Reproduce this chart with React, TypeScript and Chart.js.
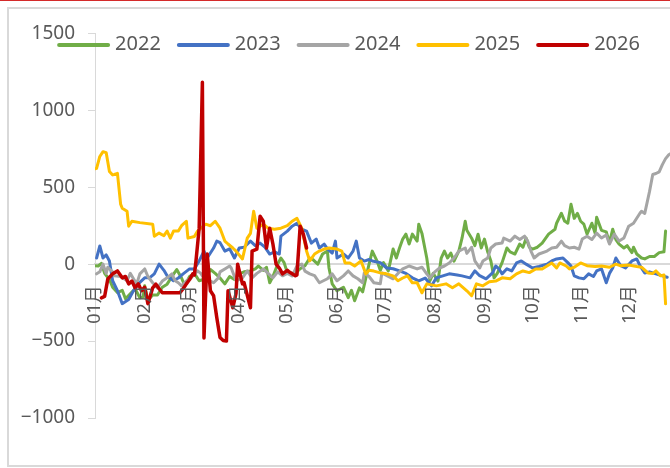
import React, { useEffect, useRef } from 'react';
import { Chart, registerables } from 'chart.js';

Chart.register(...registerables);

const FONT = '"Noto Sans", "Noto Sans CJK SC", sans-serif';
const TEXT_COLOR = '#595959';
const AXIS_COLOR = '#d9d9d9';

const SERIES_NAMES = ['2022', '2023', '2024', '2025', '2026'];
const SERIES_COLORS = ['#70AD47', '#4472C4', '#A5A5A5', '#FFC000', '#C00000'];

// x axis: day of year (0 = 1 Jan)
const MONTH_START_DAYS = [0, 31, 59, 90, 120, 151, 181, 212, 243, 273, 304, 334];
const MONTH_LABELS = ['01月', '02月', '03月', '04月', '05月', '06月', '07月', '08月', '09月', '10月', '11月', '12月'];
const Y_TICKS = [-1000, -500, 0, 500, 1000, 1500];

const days2022 = [0,2,4,6,9,11,14,17,19,22,25,28,30,31,33,36,39,42,45,48,51,54,56,59,62,65,69,72,75,78,81,84,87,90,93,97,100,102,105,107,109,111,114,116,118,120,125,128,131,134,136,139,142,145,146,148,151,155,158,160,162,165,167,169,171,173,176,178,180,183,186,188,190,192,194,196,198,201,202,204,207,209,211,214,216,218,220,222,224,227,229,231,232,235,237,239,241,243,245,247,249,251,254,257,259,262,265,267,269,271,273,276,279,283,287,288,291,293,295,297,299,301,303,305,307,310,312,313,316,319,321,323,325,327,330,332,335,336,338,341,343,346,349,352,355,356];
const vals2022 = [-10,-12,5,-60,-100,-150,-185,-170,-225,-193,-160,-218,-215,-140,-235,-200,-200,-150,-130,-80,-35,-90,-140,-80,-60,-108,-95,-35,-60,-90,-128,-80,-100,-63,-50,-44,-30,-12,-40,-20,-121,-80,0,40,10,-57,-60,-30,-10,40,30,0,66,85,-25,-128,-173,-150,-218,-170,-238,-154,-180,-89,0,85,20,-40,10,-44,98,40,105,163,195,131,195,150,260,200,40,-108,-60,-110,40,85,40,72,20,85,169,279,220,169,120,195,105,163,80,21,-89,-60,10,105,80,66,131,110,169,110,98,110,137,195,227,266,331,280,266,389,298,330,279,260,195,266,202,305,220,210,140,227,160,130,105,120,75,110,66,40,34,50,50,75,80,215];

const days2023 = [1,3,5,7,9,11,14,17,21,24,27,31,34,37,40,43,45,49,52,55,59,62,65,68,70,74,76,78,81,84,87,90,93,97,100,103,106,109,112,115,116,120,123,126,129,132,135,138,140,143,145,148,150,151,155,158,161,163,165,168,171,173,178,182,186,190,194,198,202,206,210,213,217,221,226,229,234,237,240,244,248,250,252,254,257,260,263,266,269,273,277,282,285,288,292,295,297,299,302,305,308,311,313,316,319,321,323,325,328,331,335,338,340,343,346,350,354,357];
const vals2023 = [40,118,40,60,21,-108,-173,-257,-230,-173,-128,-89,-89,-63,0,-40,-76,-108,-90,-63,-31,-31,21,85,40,105,150,140,85,100,40,105,110,150,120,137,110,66,80,66,182,215,247,266,227,215,137,163,105,130,100,72,150,40,66,40,85,150,40,20,30,21,10,-25,-30,-44,-60,-89,-108,-90,-141,-89,-76,-63,-70,-76,-89,-44,-75,-95,-57,-12,-30,-63,-30,-44,8,21,0,-25,-15,0,21,34,40,10,-12,-76,-89,-95,-63,-80,-44,-30,-121,-60,-25,40,-10,-25,21,34,-10,-57,-50,-63,-76,-85];

const days2024 = [1,3,5,7,8,11,12,16,20,22,24,26,28,31,33,36,39,42,45,48,50,52,54,57,60,64,66,69,72,74,77,78,81,84,85,88,90,92,95,98,101,105,108,111,114,117,120,123,126,129,131,134,137,140,145,148,151,155,158,161,164,167,168,171,174,178,179,183,186,189,192,196,201,204,207,209,212,215,218,221,224,227,231,232,235,237,240,242,245,247,250,254,255,259,262,265,268,270,272,274,277,282,285,288,291,293,296,299,302,304,307,310,313,316,319,321,324,327,330,333,336,340,341,343,346,348,350,352,354,356,358,361];
const vals2024 = [-63,-50,0,-60,-20,-50,-76,-80,-108,-60,-95,-128,-63,-31,-80,-121,-154,-110,-89,-63,-108,-121,-141,-110,-89,-44,-60,-108,-110,-121,-89,-50,-31,-12,-25,-108,-100,-89,-44,-89,-60,-31,-60,-89,-50,-76,-60,-76,-12,0,-45,-63,-75,-121,-95,-63,-108,-76,-44,-76,-95,-121,-57,-80,-121,-128,-57,-80,-95,-60,-31,-12,-31,-20,-63,-89,-50,-25,-12,8,40,85,105,70,110,21,-25,20,40,105,131,137,169,150,182,160,182,150,85,40,66,85,105,110,150,120,105,110,98,163,182,160,202,170,190,131,195,150,170,247,266,331,344,330,473,583,589,600,647,686,711,730];

const days2025 = [0,1,3,5,7,9,11,12,14,16,17,20,21,23,28,36,37,40,43,45,47,49,52,54,57,58,62,64,69,72,75,78,81,83,86,88,92,95,97,99,101,105,108,112,116,120,123,126,129,132,134,137,140,143,146,151,154,156,159,162,166,169,171,174,178,181,186,189,192,195,198,201,204,207,213,219,223,227,232,235,238,242,246,250,254,259,263,267,271,275,279,282,285,288,290,294,296,299,303,307,312,316,321,325,328,333,338,341,345,348,350,353,355,356];
const vals2025 = [620,623,700,731,725,602,580,583,590,389,363,344,247,279,270,260,182,202,185,215,169,215,215,250,279,169,180,215,260,250,279,234,150,131,105,85,34,169,200,344,234,260,234,227,234,250,279,298,234,85,21,66,85,98,105,98,85,8,8,-12,21,-63,-40,-45,-57,-60,-76,-108,-90,-76,-121,-121,-186,-128,-141,-128,-154,-128,-173,-205,-128,-141,-115,-110,-89,-95,-63,-44,-55,-31,-31,-12,8,-25,8,-12,-31,-20,8,-10,-15,-12,-20,0,-10,-5,-15,-20,-57,-60,-44,-76,-70,-258];

const days2026 = [4,6,8,11,14,17,19,21,23,25,27,29,31,33,36,38,40,42,47,53,55,57,59,61,62,63,65,67,68,70,72,74,76,78,80,82,83,86,88,89,92,93,97,98,101,103,105,107,109,111,113,115,117,120,121,125,126,128,130,132];
const vals2026 = [-219,-210,-96,-63,-44,-89,-80,-128,-110,-154,-128,-173,-150,-257,-154,-130,-160,-186,-186,-186,-160,-128,-100,-63,-70,21,234,1183,-480,66,-173,-205,-348,-477,-496,-500,-173,-283,-190,0,-128,-120,-283,85,98,311,279,105,234,131,0,-25,-63,-40,-50,-76,-70,247,195,105];

const SERIES_DAYS = [days2022, days2023, days2024, days2025, days2026];
const SERIES_VALUES = [vals2022, vals2023, vals2024, vals2025, vals2026];

// Legend drawn inside the plot area, like the reference
const legendPlugin = {
  id: 'topLegend',
  afterDraw(chart: any) {
    const ctx = chart.ctx as CanvasRenderingContext2D;
    ctx.save();
    ctx.font = `20px ${FONT}`;
    const items = chart.data.datasets.map((ds: any) => ({
      label: ds.label as string,
      color: ds.borderColor as string,
      w: ctx.measureText(ds.label).width,
    }));
    const LINE = 53, GAP = 5, SPACE = 16;
    const total = items.reduce((s: number, it: any) => s + LINE + GAP + it.w, 0) + SPACE * (items.length - 1);
    let x = chart.width / 2 - total / 2;
    const y = 36;
    for (const it of items) {
      ctx.strokeStyle = it.color;
      ctx.lineWidth = 4;
      ctx.lineCap = 'round';
      ctx.beginPath();
      ctx.moveTo(x + 2, y);
      ctx.lineTo(x + LINE - 2, y);
      ctx.stroke();
      ctx.fillStyle = TEXT_COLOR;
      ctx.textBaseline = 'middle';
      ctx.textAlign = 'left';
      ctx.fillText(it.label, x + LINE + GAP, y - 1);
      x += LINE + GAP + it.w + SPACE;
    }
    ctx.restore();
  },
};

// Month labels, rotated, hanging under the zero line (positions from the x scale)
const monthLabelPlugin = {
  id: 'monthLabels',
  afterDatasetsDraw(chart: any) {
    const xs = chart.scales.x;
    const ys = chart.scales.y;
    const ctx = chart.ctx as CanvasRenderingContext2D;
    const y0 = ys.getPixelForValue(0) + 21;
    ctx.save();
    ctx.font = `18px ${FONT}`;
    ctx.fillStyle = TEXT_COLOR;
    ctx.textAlign = 'right';
    ctx.textBaseline = 'middle';
    MONTH_START_DAYS.forEach((d, i) => {
      const px = xs.getPixelForValue(d);
      ctx.save();
      ctx.translate(px, y0);
      ctx.rotate(-Math.PI / 2);
      ctx.fillText(MONTH_LABELS[i], 0, 0);
      ctx.restore();
    });
    ctx.restore();
  },
};

export default function App() {
  const ref = useRef<HTMLCanvasElement>(null);

  useEffect(() => {
    const canvas = ref.current;
    if (!canvas) return;
    const datasets = SERIES_NAMES.map((name, i) => ({
      label: name,
      data: SERIES_DAYS[i].map((d, j) => ({ x: d, y: SERIES_VALUES[i][j] })),
      borderColor: SERIES_COLORS[i],
      backgroundColor: SERIES_COLORS[i],
      borderWidth: i === 4 ? 3.5 : 3,
      pointRadius: 0,
      tension: 0,
      borderJoinStyle: 'round' as const,
      borderCapStyle: 'round' as const,
      order: SERIES_NAMES.length - i,
    }));

    const chart = new Chart(canvas, {
      type: 'line',
      data: { datasets },
      options: {
        responsive: false,
        animation: false,
        devicePixelRatio: 1,
        events: [],
        layout: { padding: { top: 22, bottom: 47, left: 0, right: 8 } },
        plugins: {
          legend: { display: false },
          tooltip: { enabled: false },
        },
        scales: {
          x: {
            type: 'linear',
            min: 0,
            max: 365,
            position: { y: 0 } as any,
            grid: { display: false, drawTicks: false },
            border: { display: true, color: AXIS_COLOR, width: 2 },
            afterBuildTicks: (scale: any) => {
              scale.ticks = MONTH_START_DAYS.map((v) => ({ value: v }));
            },
            ticks: { display: false },
          },
          y: {
            type: 'linear',
            position: 'left',
            min: -1000,
            max: 1500,
            afterBuildTicks: (scale: any) => {
              scale.ticks = Y_TICKS.map((v) => ({ value: v }));
            },
            afterFit: (scale: any) => {
              scale.width = 86;
            },
            grid: {
              display: true,
              drawOnChartArea: false,
              drawTicks: true,
              tickLength: 7,
              color: AXIS_COLOR,
              lineWidth: 1,
            },
            border: { display: true, color: AXIS_COLOR, width: 1 },
            ticks: {
              padding: 13,
              color: TEXT_COLOR,
              font: { family: FONT, size: 19 },
              callback: (v: any) => (Number(v) < 0 ? '\u2212' + Math.abs(Number(v)) : String(v)),
            },
          },
        },
      },
      plugins: [monthLabelPlugin, legendPlugin],
    });
    return () => chart.destroy();
  }, []);

  return (
    <div
      style={{
        position: 'fixed',
        left: 0,
        top: 0,
        width: 670,
        height: 468,
        overflow: 'hidden',
        background: '#ffffff',
      }}
    >
      <div style={{ position: 'absolute', left: 0, top: 0, width: 670, height: 1, background: '#d42a2a' }} />
      <div
        style={{
          position: 'absolute',
          left: 7,
          top: 7,
          width: 720,
          height: 456,
          border: '2px solid #d9d9d9',
        }}
      />
      <canvas
        ref={ref}
        width={679}
        height={456}
        style={{ position: 'absolute', left: 9, top: 9, width: 679, height: 456 }}
      />
    </div>
  );
}
